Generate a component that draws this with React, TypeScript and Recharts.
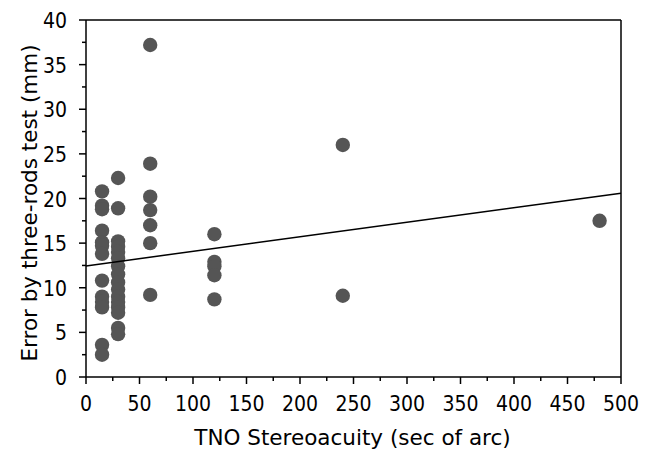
import { ScatterChart, Scatter, XAxis, YAxis, Label } from 'recharts';

const stereoLevels = [15, 30, 60, 120, 240, 480];

const errors15 = [20.8, 19.2, 18.8, 16.4, 15.1, 14.7, 13.8, 10.8, 9.0, 8.4, 7.8, 3.6, 2.5];
const errors30 = [22.3, 18.9, 15.2, 14.6, 14.0, 13.3, 12.4, 11.5, 10.6, 9.8, 9.0, 8.4, 7.8, 7.2, 5.5, 4.8];
const errors60 = [37.2, 23.9, 20.2, 18.7, 17.0, 15.0, 9.2];
const errors120 = [16.0, 12.9, 12.4, 11.4, 8.7];
const errors240 = [26.0, 9.1];
const errors480 = [17.5];

const errorGroups = [errors15, errors30, errors60, errors120, errors240, errors480];

const fitX = [0, 500];
const fitY = [12.45, 20.6];

const xTicks = [0, 25, 50, 75, 100, 125, 150, 175, 200, 225, 250, 275, 300, 325, 350, 375, 400, 425, 450, 475, 500];
const yTicks = [0, 2.5, 5, 7.5, 10, 12.5, 15, 17.5, 20, 22.5, 25, 27.5, 30, 32.5, 35, 37.5, 40];

const points = stereoLevels.flatMap((s, i) => errorGroups[i].map((e) => ({ x: s, y: e })));
const fitLine = fitX.map((x, i) => ({ x, y: fitY[i] }));

const TICK_FONT = '"Liberation Sans Narrow", "DejaVu Sans Condensed", Arial, sans-serif';
const TITLE_FONT = '"DejaVu Sans", Arial, sans-serif';

const BottomTick = ({ x, y, payload }: any) => {
  const major = payload.value % 50 === 0;
  return (
    <g>
      <line x1={x} y1={y} x2={x} y2={y + (major ? 7 : 4)} stroke="#000" strokeWidth={1.5} />
      {major && (
        <text x={x} y={y + 34} textAnchor="middle" fontSize={21} fontFamily={TICK_FONT} fill="#000">
          {payload.value}
        </text>
      )}
    </g>
  );
};

const TopTick = ({ x, y, payload }: any) => {
  const major = payload.value % 50 === 0;
  return <line x1={x} y1={y} x2={x} y2={y - (major ? 7 : 4)} stroke="#000" strokeWidth={1.5} />;
};

const LeftTick = ({ x, y, payload }: any) => {
  const major = payload.value % 5 === 0;
  return (
    <g>
      <line x1={x} y1={y} x2={x - (major ? 7 : 4)} y2={y} stroke="#000" strokeWidth={1.5} />
      {major && (
        <text x={x - 19} y={y + 8} textAnchor="end" fontSize={21} fontFamily={TICK_FONT} fill="#000">
          {payload.value}
        </text>
      )}
    </g>
  );
};

const RightTick = ({ x, y, payload }: any) => {
  const major = payload.value % 5 === 0;
  return <line x1={x} y1={y} x2={x + (major ? 7 : 4)} y2={y} stroke="#000" strokeWidth={1.5} />;
};

export default function App() {
  return (
    <div style={{ position: 'absolute', left: 0, top: 0, background: '#fff' }}>
      <ScatterChart width={647} height={452} margin={{ top: 0, right: 0, bottom: 0, left: 0 }}>
        <XAxis
          xAxisId="b"
          type="number"
          dataKey="x"
          domain={[0, 500]}
          ticks={xTicks}
          interval={0}
          height={75}
          tickSize={0}
          tickMargin={0}
          tickLine={false}
          axisLine={{ stroke: '#000', strokeWidth: 1.5 }}
          tick={<BottomTick />}
        >
          <Label
            content={() => (
              <text x={352.5} y={445} textAnchor="middle" fontSize={21.5} fontFamily={TITLE_FONT} fill="#000">
                TNO Stereoacuity (sec of arc)
              </text>
            )}
          />
        </XAxis>
        <XAxis
          xAxisId="t"
          orientation="top"
          type="number"
          dataKey="x"
          domain={[0, 500]}
          ticks={xTicks}
          interval={0}
          height={20}
          tickSize={0}
          tickMargin={0}
          tickLine={false}
          axisLine={{ stroke: '#000', strokeWidth: 1.5 }}
          tick={<TopTick />}
        />
        <YAxis
          yAxisId="l"
          type="number"
          dataKey="y"
          domain={[0, 40]}
          ticks={yTicks}
          interval={0}
          width={86}
          tickSize={0}
          tickMargin={0}
          tickLine={false}
          axisLine={{ stroke: '#000', strokeWidth: 1.5 }}
          tick={<LeftTick />}
        >
          <Label
            content={() => (
              <text
                x={0}
                y={0}
                transform="translate(37, 203) rotate(-90)"
                textAnchor="middle"
                fontSize={21.5}
                fontFamily={TITLE_FONT}
                fill="#000"
              >
                Error by three-rods test (mm)
              </text>
            )}
          />
        </YAxis>
        <YAxis
          yAxisId="r"
          orientation="right"
          type="number"
          dataKey="y"
          domain={[0, 40]}
          ticks={yTicks}
          interval={0}
          width={26}
          tickSize={0}
          tickMargin={0}
          tickLine={false}
          axisLine={{ stroke: '#000', strokeWidth: 1.5 }}
          tick={<RightTick />}
        />
        <Scatter
          xAxisId="b"
          yAxisId="l"
          data={points}
          fill="#555555"
          shape={(p: any) => <circle cx={p.cx} cy={p.cy} r={7.2} fill="#555555" />}
          isAnimationActive={false}
        />
        <Scatter
          xAxisId="b"
          yAxisId="l"
          data={fitLine}
          line={{ stroke: '#000', strokeWidth: 1.5 }}
          shape={() => <g />}
          isAnimationActive={false}
        />
      </ScatterChart>
    </div>
  );
}
